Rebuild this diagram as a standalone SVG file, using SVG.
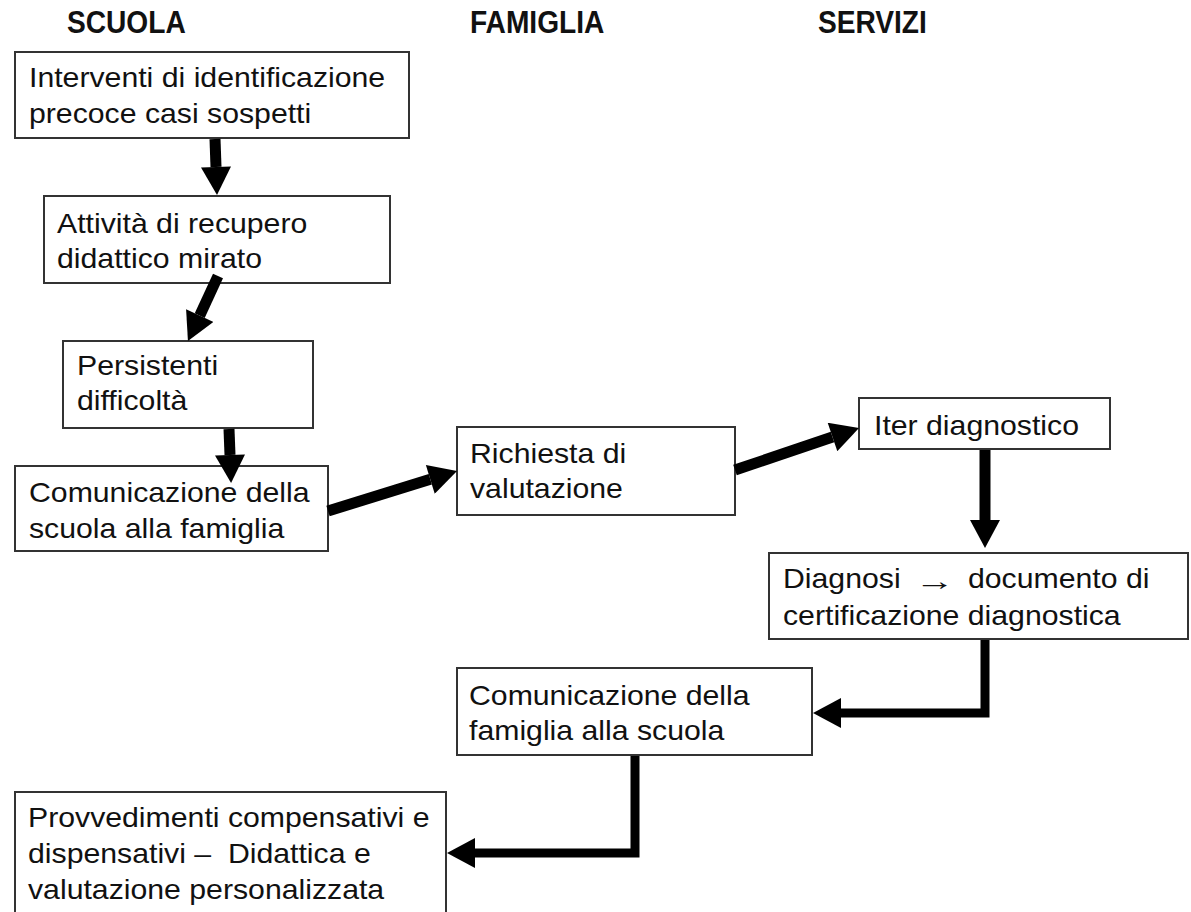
<svg xmlns="http://www.w3.org/2000/svg" width="1191" height="912" viewBox="0 0 1191 912">
<style>
.box{fill:#fff;stroke:#333;stroke-width:2}
.t{font-family:"Liberation Sans",Arial,sans-serif;font-size:28px;fill:#111}
.h{font-family:"Liberation Sans",Arial,sans-serif;font-size:29px;font-weight:bold;fill:#111}
.c{fill:none;stroke:#000;stroke-width:11}
.e{fill:none;stroke:#000;stroke-width:9}
</style>
<defs>
<marker id="ah" markerUnits="userSpaceOnUse" markerWidth="30" markerHeight="30" viewBox="0 0 28 30" refX="0" refY="15" orient="auto">
<path d="M0,0 L28,15 L0,30 z" fill="#000"/>
</marker>
</defs>
<rect width="1191" height="912" fill="#fff"/>
<g id="headers">
<text class="h" transform="translate(67,33) scale(0.97,1.05)">SCUOLA</text>
<text class="h" transform="translate(470,33) scale(0.97,1.05)">FAMIGLIA</text>
<text class="h" transform="translate(818,33) scale(0.97,1.05)">SERVIZI</text>
</g>
<g id="n1">
<rect class="box" x="15" y="52" width="394" height="86"/>
<text class="t" transform="translate(29,87) scale(1.08,1)"><tspan x="0">Interventi di identificazione</tspan><tspan x="0" dy="36">precoce casi sospetti</tspan></text>
</g>
<g id="n2">
<rect class="box" x="44" y="196" width="346" height="87"/>
<text class="t" transform="translate(57,233) scale(1.08,1)"><tspan x="0">Attività di recupero</tspan><tspan x="0" dy="35">didattico mirato</tspan></text>
</g>
<g id="n3">
<rect class="box" x="63" y="341" width="250" height="87"/>
<text class="t" transform="translate(77,375) scale(1.08,1)"><tspan x="0">Persistenti</tspan><tspan x="0" dy="35">difficoltà</tspan></text>
</g>
<g id="n4">
<rect class="box" x="15" y="466" width="313" height="85"/>
<text class="t" transform="translate(29,502) scale(1.08,1)"><tspan x="0">Comunicazione della</tspan><tspan x="0" dy="36">scuola alla famiglia</tspan></text>
</g>
<g id="n5">
<rect class="box" x="457" y="427" width="278" height="88"/>
<text class="t" transform="translate(470,463) scale(1.08,1)"><tspan x="0">Richiesta di</tspan><tspan x="0" dy="35">valutazione</tspan></text>
</g>
<g id="n6">
<rect class="box" x="859" y="398" width="251" height="51"/>
<text class="t" transform="translate(874,435) scale(1.08,1)">Iter diagnostico</text>
</g>
<g id="n7">
<rect class="box" x="769" y="553" width="419" height="86"/>
<text class="t" transform="translate(783,588) scale(1.08,1)">Diagnosi</text>
<text x="915" y="590" font-family="Liberation Sans, Arial, sans-serif" font-size="26" textLength="40" lengthAdjust="spacingAndGlyphs" fill="#111">→</text>
<text class="t" transform="translate(968,588) scale(1.08,1)">documento di</text>
<text class="t" transform="translate(783,625) scale(1.08,1)">certificazione diagnostica</text>
</g>
<g id="n8">
<rect class="box" x="457" y="668" width="355" height="87"/>
<text class="t" transform="translate(469,705) scale(1.08,1)"><tspan x="0">Comunicazione della</tspan><tspan x="0" dy="35">famiglia alla scuola</tspan></text>
</g>
<g id="n9">
<rect class="box" x="15" y="792" width="431" height="140"/>
<text class="t" transform="translate(28,827) scale(1.08,1)"><tspan x="0">Provvedimenti compensativi e</tspan><tspan x="0" dy="36">dispensativi –&#160; Didattica e</tspan><tspan x="0" dy="36">valutazione personalizzata</tspan></text>
</g>
<g id="connectors">
<line class="c" x1="215" y1="139" x2="216" y2="167" marker-end="url(#ah)"/>
<line class="c" x1="218" y1="276" x2="199.7" y2="315.6" marker-end="url(#ah)"/>
<line class="c" x1="229" y1="429" x2="230" y2="455" marker-end="url(#ah)"/>
<line class="c" x1="328" y1="511" x2="430.3" y2="479.3" marker-end="url(#ah)"/>
<line class="c" x1="735" y1="470" x2="832.5" y2="437" marker-end="url(#ah)"/>
<line class="c" x1="985" y1="450" x2="985" y2="520" marker-end="url(#ah)"/>
<polyline class="e" points="985,640 985,713 841,713" marker-end="url(#ah)"/>
<polyline class="e" points="635,756 635,853 475,853" marker-end="url(#ah)"/>
</g>
</svg>
